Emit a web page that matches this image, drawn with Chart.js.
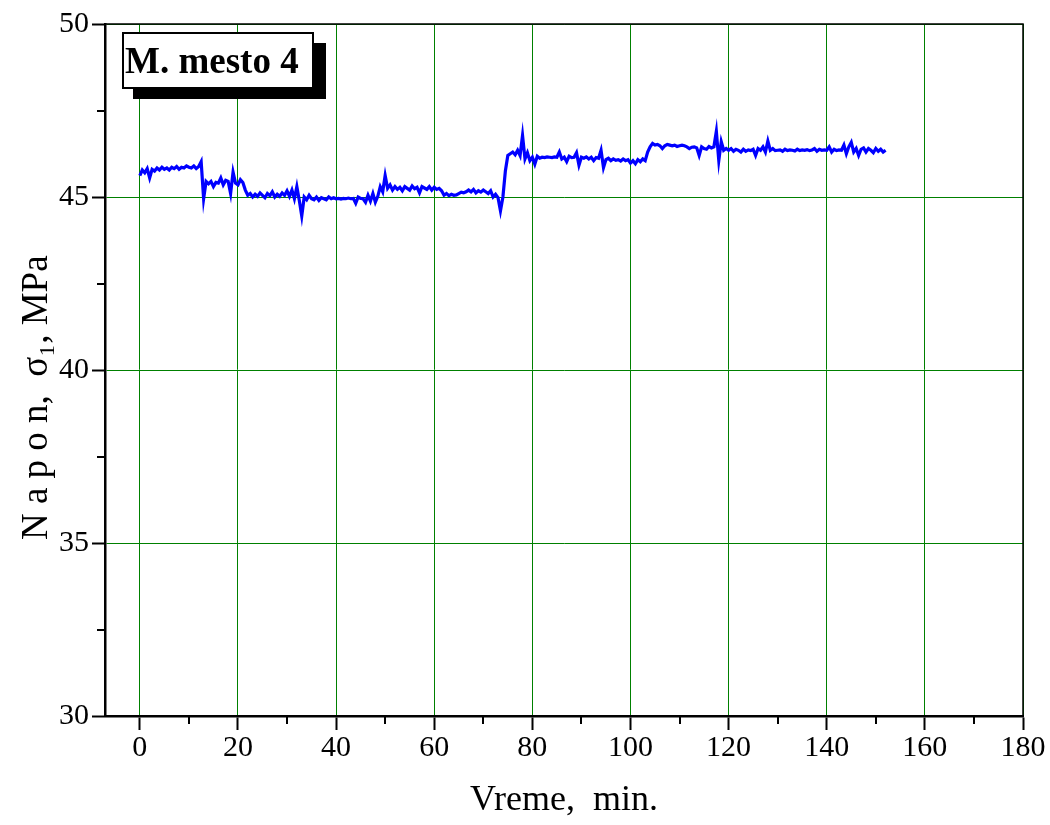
<!DOCTYPE html>
<html>
<head>
<meta charset="utf-8">
<script src="https://cdn.jsdelivr.net/npm/chart.js@4"></script>
<style>
  body { margin: 0; background: #fff; }
</style>
</head>
<body>
<canvas id="napon" width="1050" height="825"></canvas>
<script>
// time axis: one reading every half minute, starting at 0 min
const startTime = 0;
const sampleStep = 0.5;

// stress sigma_1 in MPa
const stress = [
  45.62, 45.78, 45.70, 45.82, 45.55, 45.80, 45.75, 45.84, 45.78, 45.86, 45.80, 45.84, 45.78, 45.86, 45.82, 45.88, 45.80, 45.86, 45.84, 45.90,
  45.86, 45.84, 45.90, 45.82, 45.88, 46.02, 44.95, 45.45, 45.38, 45.45, 45.30, 45.42, 45.40, 45.55, 45.35, 45.48, 45.45, 45.10, 45.72, 45.40,
  45.35, 45.50, 45.42, 45.20, 45.05, 45.10, 45.00, 45.08, 45.02, 45.12, 45.05, 44.98, 45.10, 45.04, 45.15, 45.00, 45.08, 45.02, 45.12, 45.05,
  45.18, 45.02, 45.20, 44.95, 45.30, 44.90, 44.45, 45.00, 44.92, 45.05, 44.95, 44.92, 45.00, 44.90, 44.98, 44.95, 44.92, 45.00, 44.95, 44.98,
  44.95, 44.96, 44.94, 44.96, 44.95, 44.97, 44.95, 44.96, 44.82, 45.00, 44.96, 44.95, 44.85, 45.05, 44.88, 45.10, 44.85, 45.02, 45.30, 45.15,
  45.62, 45.25, 45.35, 45.20, 45.30, 45.22, 45.28, 45.18, 45.30, 45.25, 45.20, 45.32, 45.24, 45.28, 45.12, 45.30, 45.26, 45.22, 45.30, 45.20,
  45.28, 45.22, 45.25, 45.18, 45.05, 45.10, 45.04, 45.08, 45.05, 45.06, 45.10, 45.14, 45.12, 45.15, 45.20, 45.15, 45.22, 45.12, 45.18, 45.14,
  45.20, 45.15, 45.10, 45.18, 45.00, 45.08, 44.98, 44.60, 45.00, 45.75, 46.20, 46.25, 46.30, 46.22, 46.35, 46.20, 46.78, 46.10, 46.28, 46.05,
  46.15, 45.95, 46.18, 46.12, 46.15, 46.14, 46.16, 46.15, 46.14, 46.16, 46.15, 46.30, 46.10, 46.15, 46.02, 46.18, 46.14, 46.15, 46.28, 45.92,
  46.15, 46.12, 46.16, 46.10, 46.15, 46.05, 46.14, 46.12, 46.35, 45.85, 46.08, 46.12, 46.05, 46.10, 46.06, 46.08, 46.04, 46.10, 46.05, 46.08,
  45.98, 46.05, 45.96, 46.08, 46.02, 46.10, 46.05, 46.30, 46.45, 46.55, 46.50, 46.52, 46.48, 46.40, 46.48, 46.52, 46.50, 46.48, 46.50, 46.46,
  46.48, 46.50, 46.48, 46.45, 46.40, 46.44, 46.45, 46.42, 46.20, 46.45, 46.40, 46.38, 46.46, 46.42, 46.45, 46.90, 46.05, 46.60, 46.35, 46.40,
  46.35, 46.40, 46.32, 46.38, 46.35, 46.30, 46.38, 46.32, 46.36, 46.34, 46.38, 46.20, 46.40, 46.35, 46.45, 46.30, 46.62, 46.35, 46.40, 46.34,
  46.35, 46.36, 46.32, 46.38, 46.34, 46.36, 46.35, 46.33, 46.38, 46.34, 46.36, 46.35, 46.37, 46.34, 46.36, 46.40, 46.32, 46.38, 46.35, 46.36,
  46.35, 46.45, 46.30, 46.38, 46.34, 46.36, 46.35, 46.50, 46.25, 46.45, 46.58, 46.30, 46.40, 46.20, 46.38, 46.42, 46.30, 46.40, 46.35, 46.28,
  46.40, 46.32, 46.38, 46.30, 46.35
];

const xTicks = [0, 20, 40, 60, 80, 100, 120, 140, 160, 180];
const xMinorTicks = [10, 30, 50, 70, 90, 110, 130, 150, 170];
const yTicks = [30, 35, 40, 45, 50];
const yMinorTicks = [32.5, 37.5, 42.5, 47.5];

const points = stress.map((v, i) => ({ x: startTime + i * sampleStep, y: v }));

const serif = "'Liberation Serif', 'Times New Roman', serif";

// minor ticks, top/right frame and the "M. mesto 4" label box
const extras = {
  id: "extras",
  afterDraw(chart) {
    const { ctx, chartArea: a, scales: { x, y } } = chart;
    ctx.save();
    ctx.strokeStyle = "#000";
    ctx.lineWidth = 2;
    ctx.beginPath();
    xMinorTicks.forEach(v => {
      const px = Math.round(x.getPixelForValue(v));
      ctx.moveTo(px, a.bottom);
      ctx.lineTo(px, a.bottom + 8);
    });
    yMinorTicks.forEach(v => {
      const py = Math.round(y.getPixelForValue(v));
      ctx.moveTo(a.left, py);
      ctx.lineTo(a.left - 8, py);
    });
    ctx.stroke();

    ctx.lineWidth = 1.5;
    ctx.beginPath();
    ctx.moveTo(a.left, a.top);
    ctx.lineTo(a.right, a.top);
    ctx.lineTo(a.right, a.bottom);
    ctx.stroke();

    ctx.fillStyle = "#000";
    ctx.fillRect(133, 43, 193, 56);
    ctx.fillStyle = "#fff";
    ctx.fillRect(123, 33, 190, 55);
    ctx.lineWidth = 2;
    ctx.strokeRect(123, 33, 190, 55);
    ctx.fillStyle = "#000";
    ctx.font = "bold 37px " + serif;
    ctx.textBaseline = "middle";
    ctx.fillText("M. mesto 4", 125, 63);
    ctx.restore();
  }
};

new Chart(document.getElementById("napon"), {
  type: "line",
  data: {
    datasets: [{
      data: points,
      borderColor: "#0000ff",
      borderWidth: 3.2,
      pointRadius: 0,
      tension: 0,
      fill: false
    }]
  },
  options: {
    responsive: false,
    animation: false,
    parsing: false,
    layout: { padding: { left: 0, top: 24, right: 27, bottom: 0 } },
    plugins: { legend: { display: false }, tooltip: { enabled: false } },
    scales: {
      x: {
        type: "linear",
        min: -7.1,
        max: 180,
        afterBuildTicks: s => { s.ticks = xTicks.map(v => ({ value: v })); },
        afterFit: s => { s.height = 109; },
        grid: { color: "#008000", lineWidth: 1, tickColor: "#000", tickLength: 14, tickWidth: 2 },
        border: { color: "#000", width: 2.5 },
        ticks: { color: "#000", font: { family: serif, size: 30 }, padding: 0, maxRotation: 0 },
        title: {
          display: true, text: "Vreme,  min.", color: "#000",
          font: { family: serif, size: 36 }, padding: { top: 0, bottom: 3 }
        }
      },
      y: {
        min: 30,
        max: 50,
        afterBuildTicks: s => { s.ticks = yTicks.map(v => ({ value: v })); },
        afterFit: s => { s.width = 105; },
        grid: { color: "#008000", lineWidth: 1, tickColor: "#000", tickLength: 13, tickWidth: 2 },
        border: { color: "#000", width: 2.5 },
        ticks: { color: "#000", font: { family: serif, size: 30 }, padding: 3 },
        title: {
          display: true, text: "N a p o n,  σ\u2081, MPa      ", color: "#000",
          font: { family: serif, size: 37 }, padding: { top: 15, bottom: 0 }
        }
      }
    }
  },
  plugins: [extras]
});
</script>
</body>
</html>
